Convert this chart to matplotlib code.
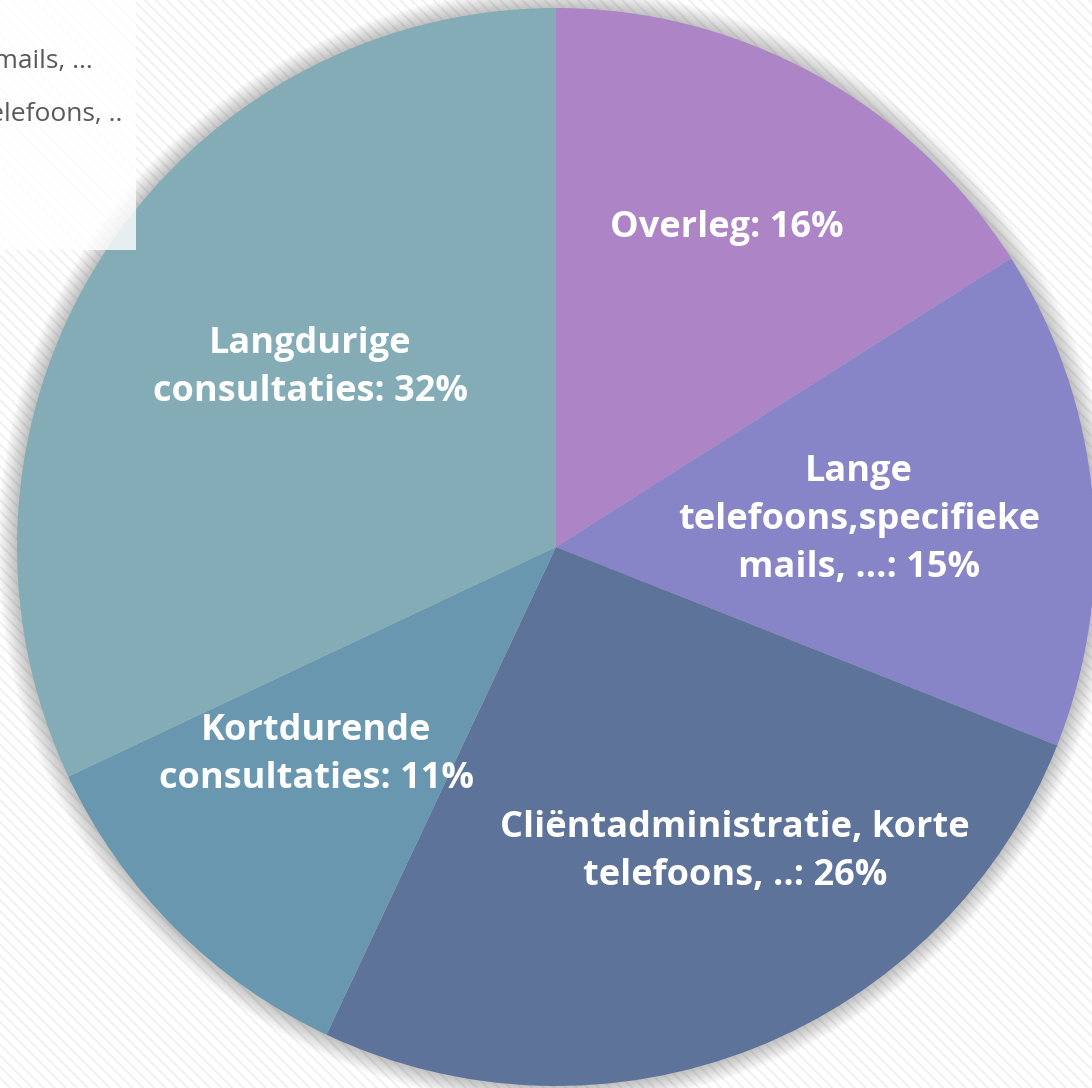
import matplotlib.pyplot as plt
from matplotlib.patches import Rectangle, Circle

plt.rcParams['font.family'] = ['Open Sans', 'DejaVu Sans']
plt.rcParams['hatch.linewidth'] = 1.5
plt.rcParams['hatch.color'] = '#f1f1f1'

# slices, clockwise from the top
categories = ["Overleg",
              "Lange telefoons,specifieke mails, ...",
              "Cliëntadministratie, korte telefoons, ..",
              "Kortdurende consultaties",
              "Langdurige consultaties"]
shares = [16, 15, 26, 11, 32]
label_lines = ["Overleg: 16%",
               "Lange\ntelefoons,specifieke\nmails, ...: 15%",
               "Cliëntadministratie, korte\ntelefoons, ..: 26%",
               "Kortdurende\nconsultaties: 11%",
               "Langdurige\nconsultaties: 32%"]
colors = ["#AD84C6", "#8784C7", "#5D739A", "#6997AF", "#84ACB6"]

# label anchors (pie units)
label_pos = [(0.317, 0.592), (0.562, 0.050), (0.332, -0.566),
             (-0.445, -0.386), (-0.456, 0.332)]

W, H = 1092, 1088
fig = plt.figure(figsize=(W / 100, H / 100), dpi=100)
fig.patch.set_facecolor('white')

# striped background
bg = fig.add_axes([0, 0, 1, 1])
bg.set_axis_off()
bg.add_patch(Rectangle((0, 0), 1, 1, transform=bg.transAxes, facecolor='white',
                       edgecolor='#f1f1f1', hatch='\\\\\\', linewidth=0))

cx, cy, r = 556, 547, 539
ax = fig.add_axes([(cx - r) / W, (H - cy - r) / H, 2 * r / W, 2 * r / H])

# soft shadow round the pie
for i in range(12):
    ax.add_patch(Circle((0, 0), 1.0 + 0.003 * (12 - i), facecolor='black',
                        alpha=0.018, linewidth=0, clip_on=False, zorder=0))

wedges, _ = ax.pie(shares, colors=colors, startangle=90, counterclock=False,
                   radius=1.0, wedgeprops=dict(linewidth=0))
for w in wedges:
    w.set_zorder(1)
ax.set_xlim(-1, 1)
ax.set_ylim(-1, 1)
ax.set_aspect('equal')
ax.set_axis_off()

for text, (x, y) in zip(label_lines, label_pos):
    ax.text(x, y, text, ha='center', va='center', color='white',
            fontsize=26, fontweight='bold', linespacing=1.45, zorder=3)

# legend box, cut off at the figure edge
fig.add_artist(Rectangle((0, 1 - 250 / H), 136 / W, 250 / H, transform=fig.transFigure,
                         facecolor='white', alpha=0.8, linewidth=0, zorder=5))
legend_rows = [(93, 62, categories[1]), (122, 115, categories[2])]
for xr, yc, name in legend_rows:
    fig.text(xr / W, 1 - yc / H, name, ha='right', va='center', color='#595959',
             fontsize=19, zorder=6)

fig.savefig('out.png', dpi=100)
